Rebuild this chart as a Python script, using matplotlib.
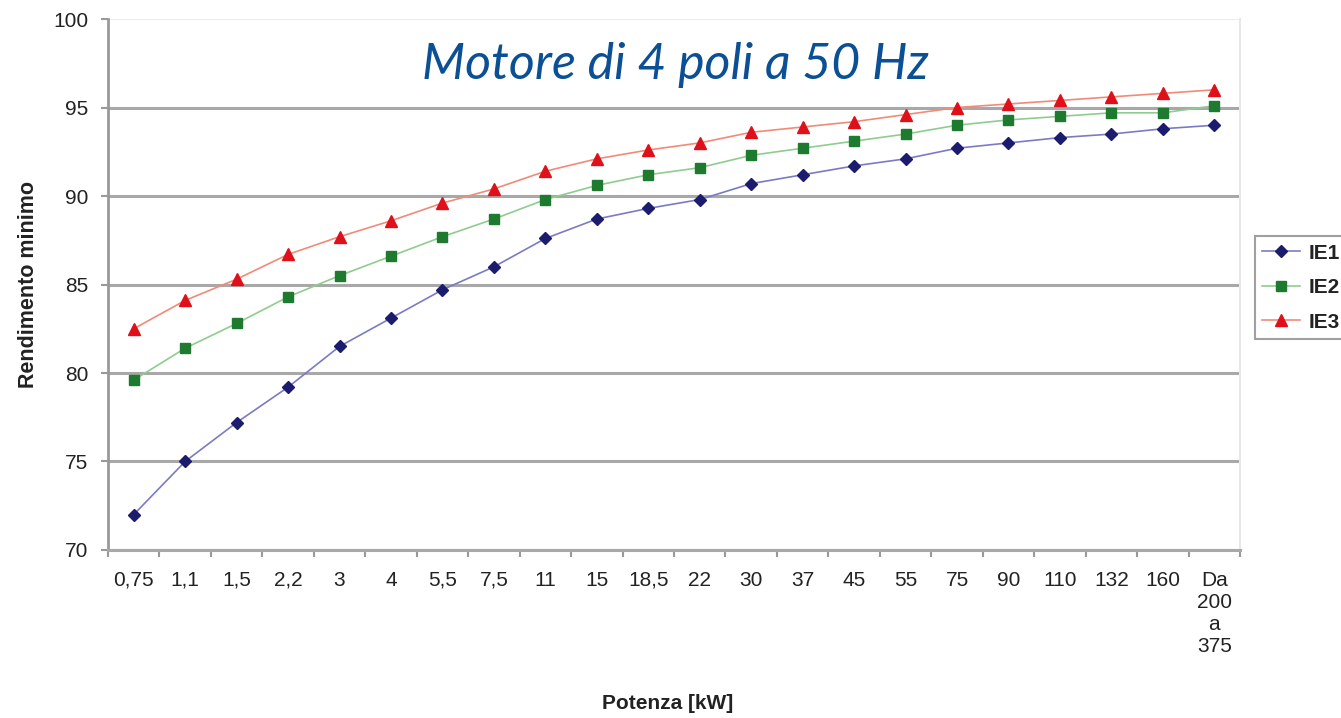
import matplotlib
matplotlib.use("Agg")
import matplotlib.pyplot as plt
import numpy as np
from matplotlib.ticker import FixedLocator, NullFormatter

categories = ["0,75", "1,1", "1,5", "2,2", "3", "4", "5,5", "7,5", "11", "15", "18,5",
              "22", "30", "37", "45", "55", "75", "90", "110", "132", "160", "Da\n200\na\n375"]
ie1 = [72.0, 75.0, 77.2, 79.2, 81.5, 83.1, 84.7, 86.0, 87.6, 88.7, 89.3,
       89.8, 90.7, 91.2, 91.7, 92.1, 92.7, 93.0, 93.3, 93.5, 93.8, 94.0]
ie2 = [79.6, 81.4, 82.8, 84.3, 85.5, 86.6, 87.7, 88.7, 89.8, 90.6, 91.2,
       91.6, 92.3, 92.7, 93.1, 93.5, 94.0, 94.3, 94.5, 94.7, 94.7, 95.1]
ie3 = [82.5, 84.1, 85.3, 86.7, 87.7, 88.6, 89.6, 90.4, 91.4, 92.1, 92.6,
       93.0, 93.6, 93.9, 94.2, 94.6, 95.0, 95.2, 95.4, 95.6, 95.8, 96.0]
series_names = ["IE1", "IE2", "IE3"]
yticks = [70, 75, 80, 85, 90, 95, 100]

plt.rcParams['font.family'] = ['Liberation Sans', 'DejaVu Sans']

fig = plt.figure(figsize=(13.41, 7.18), dpi=100)
ax = fig.add_axes([0.0805, 0.234, 0.8442, 0.7395])

x = np.arange(len(categories))
styles = [
    dict(color="#7b7bc4", marker="D", markersize=6.5, markerfacecolor="#1c1c6e", markeredgecolor="#1c1c6e"),
    dict(color="#8fcc8f", marker="s", markersize=7.5, markerfacecolor="#1e7a2e", markeredgecolor="#1e7a2e"),
    dict(color="#f28a78", marker="^", markersize=8, markerfacecolor="#e0101a", markeredgecolor="#e0101a"),
]
for vals, name, st in zip([ie1, ie2, ie3], series_names, styles):
    ax.plot(x, vals, linewidth=1.2, label=name, zorder=3, **st)

ax.set_xlim(-0.5, len(categories) - 0.5)
ax.set_ylim(70, 100)
ax.set_yticks(yticks)
ax.set_yticklabels([str(v) for v in yticks], fontsize=15, color="#222222")
ax.set_xticks(x)
ax.set_xticklabels(categories, fontsize=15, color="#222222", va="top", linespacing=1.2)
ax.tick_params(axis="x", which="major", length=0, pad=15)
ax.xaxis.set_minor_locator(FixedLocator(np.arange(-0.5, len(categories), 1.0)))
ax.xaxis.set_minor_formatter(NullFormatter())
ax.tick_params(axis="x", which="minor", length=5, width=1.5, color="#999999", direction="out")
ax.tick_params(axis="y", length=5, width=1.5, color="#999999", pad=9)

ax.yaxis.grid(True, color="#a8a8a8", linewidth=2.2)
ax.set_axisbelow(True)
gl = ax.yaxis.get_gridlines()
gl[-1].set_color("#ececec")
gl[-1].set_linewidth(1.5)
ax.spines["top"].set_visible(False)
ax.spines["right"].set_color("#e8e8e8")
ax.spines["right"].set_linewidth(1.5)
ax.spines["left"].set_color("#999999")
ax.spines["left"].set_linewidth(2)
ax.spines["bottom"].set_color("#a8a8a8")
ax.spines["bottom"].set_linewidth(2.2)

ax.set_ylabel("Rendimento minimo", fontsize=15.5, fontweight="bold", color="#222222", labelpad=10)
fig.text(0.498, 0.02, "Potenza [kW]", ha="center", va="center", fontsize=15,
         fontweight="bold", color="#222222")

fig.text(0.504, 0.909, "Motore di 4 poli a 50 Hz", ha="center", va="center",
         fontsize=36, fontstyle="italic", color="#0b4f94", family=["Lato", "DejaVu Sans"])

leg = fig.legend(loc="upper left", bbox_to_anchor=(0.936, 0.671), fontsize=15,
                 frameon=True, fancybox=False, edgecolor="#888888", handlelength=1.8,
                 borderpad=0.35, labelspacing=0.75, handletextpad=0.4, borderaxespad=0)
leg.get_frame().set_linewidth(1.5)
for t in leg.get_texts():
    t.set_color("#222222")
    t.set_fontweight("bold")

fig.savefig("out.png", dpi=100)
